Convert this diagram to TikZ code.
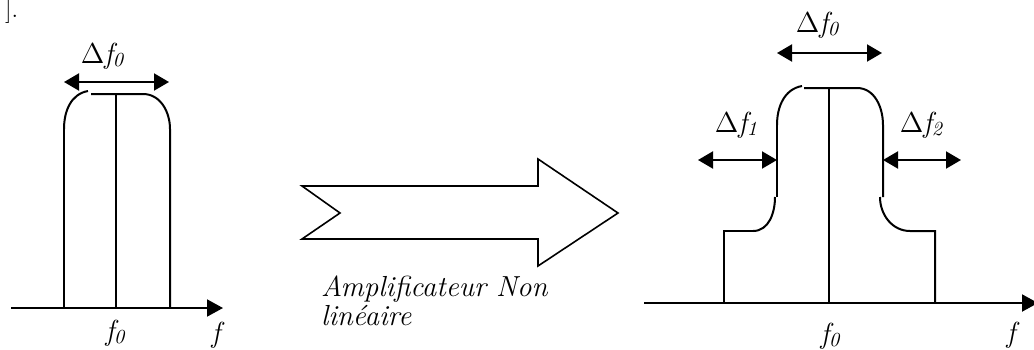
\documentclass[tikz,border=0pt]{standalone}
\usepackage{fontspec}
\usetikzlibrary{arrows.meta}
\newcommand\fsub[1]{\textit{f}\raisebox{-0.12em}{\fontsize{10}{10}\selectfont\itshape #1}}
\newcommand\dfsub[1]{$\Delta$\fsub{#1}}
\begin{document}
\begin{tikzpicture}[x=0.5pt,y=-0.5pt,line width=1pt,
  lbl/.style={font=\fontsize{14.5}{14.5}\selectfont\itshape,inner sep=0pt},
  axis/.style={-{Triangle[length=8pt,width=8.5pt]}},
  dbl/.style={{Triangle[length=7.5pt,width=8.5pt]}-{Triangle[length=7.5pt,width=8.5pt]}}]
\useasboundingbox (0,0) rectangle (1034,349);

% fragment of preceding text
\node[inner sep=0pt,font=\fontsize{12}{12}\selectfont\upshape,anchor=base west] (frag) at (4,17) {].};

% ---------- left spectrum ----------
\coordinate (La0) at (11,308);
\coordinate (La1) at (223,308);
\draw[axis] (La0) -- (La1);
\draw (64,308) -- (64,129);
\draw (64,129) to[out=90,in=190] (88,91);
\draw (91,94) -- (143,94) to[out=0,in=90] (170,129) -- (170,308);
\draw (116,94) -- (116,308);
\coordinate (Lb0) at (64,82);
\coordinate (Lb1) at (169,82);
\draw[dbl] (Lb0) -- (Lb1);
\node[lbl,anchor=base] (Ldf0) at (102,63) {\dfsub{0}};
\node[lbl,anchor=base] (Lf0) at (115,340) {\fsub{0}};
\node[lbl,anchor=base] (Lf) at (216,342) {f};

% ---------- block arrow ----------
\draw[line width=0.8pt,line join=miter] (302,186) -- (538,186) -- (538,159) -- (618,213) -- (538,266) -- (538,239) -- (302,239) -- (340,213) -- cycle;
\node[lbl,anchor=base west] (amp1) at (320,296) {Amplificateur Non};
\node[lbl,anchor=base west] (amp2) at (320,325) {linéaire};

% ---------- right spectrum ----------
\coordinate (Ra0) at (644,303);
\coordinate (Ra1) at (1038,303);
\draw[axis] (Ra0) -- (Ra1);
\draw (724,303) -- (724,231) -- (753,231);
\draw (753,231) to[out=0,in=-90] (775,197);
\draw (777,197) -- (777,125);
\draw (777,125) to[out=90,in=190] (802,86);
\draw (804,88) -- (857,88) to[out=0,in=90] (883,125) -- (883,197);
\draw (880,197) to[out=-90,in=180] (910,231) -- (935,231) -- (935,303);
\draw (829,88) -- (829,303);
\coordinate (Rb0) at (777,53);
\coordinate (Rb1) at (882,53);
\draw[dbl] (Rb0) -- (Rb1);
\coordinate (Rc0) at (698,160);
\coordinate (Rc1) at (777,160);
\draw[dbl] (Rc0) -- (Rc1);
\coordinate (Rd0) at (883,160);
\coordinate (Rd1) at (961,160);
\draw[dbl] (Rd0) -- (Rd1);
\node[lbl,anchor=base] (Rdf0) at (817,32) {\dfsub{0}};
\node[lbl,anchor=base] (Rdf1) at (736,132) {\dfsub{1}};
\node[lbl,anchor=base] (Rdf2) at (921,132) {\dfsub{2}};
\node[lbl,anchor=base] (Rf0) at (830,343) {\fsub{0}};
\node[lbl,anchor=base] (Rf) at (1011,342) {f};
\end{tikzpicture}
\end{document}
